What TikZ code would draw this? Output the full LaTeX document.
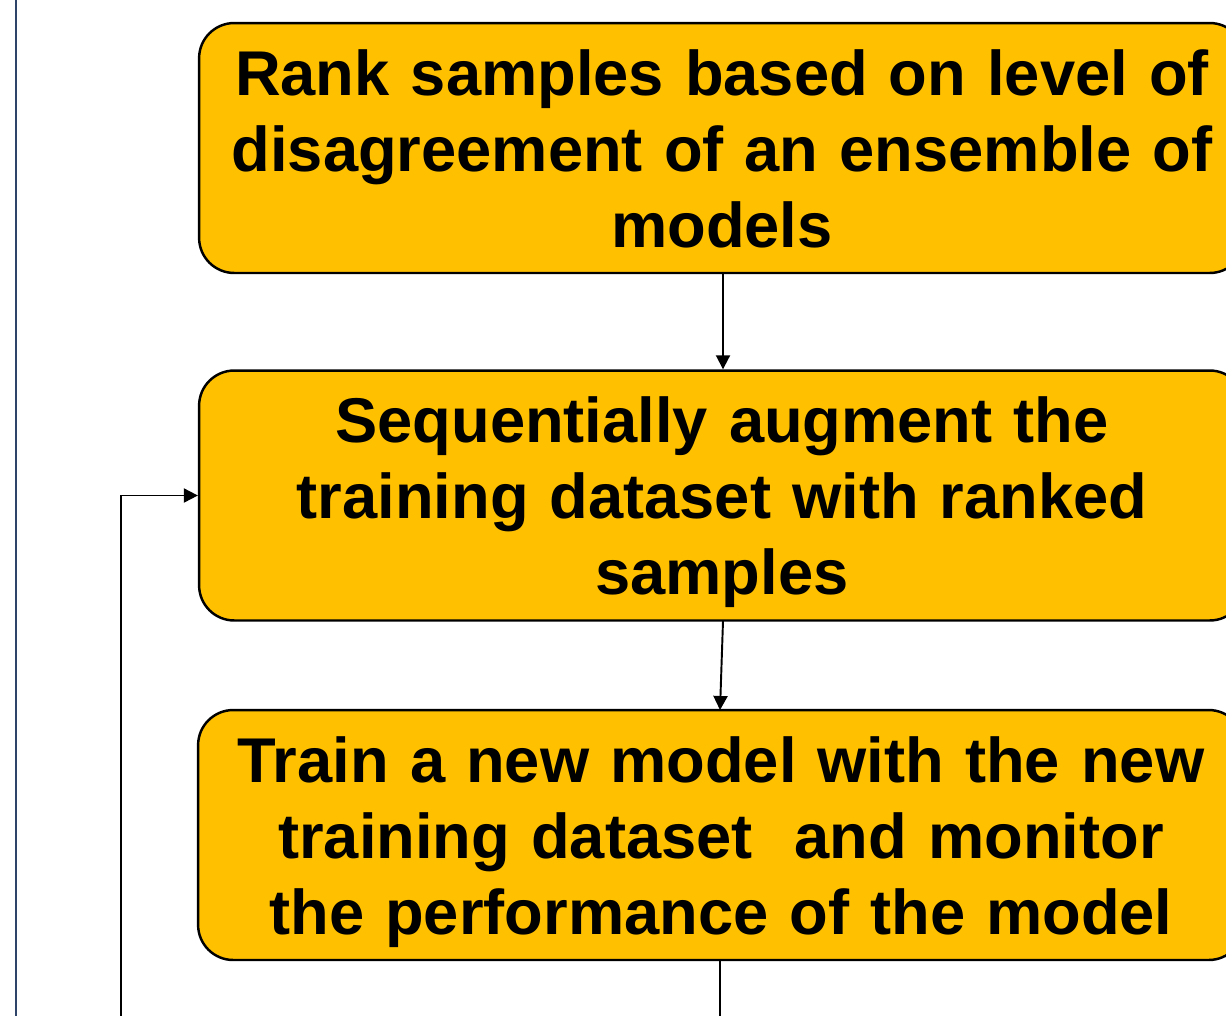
\documentclass[tikz,border=0pt]{standalone}
\usepackage{fontspec}
\setmainfont{Liberation Sans}
\usetikzlibrary{arrows.meta}
\definecolor{boxfill}{HTML}{FFC000}
\definecolor{navyline}{HTML}{2E4468}
\tikzset{
  px/.style={x=0.02cm,y=-0.02cm},
  flowbox/.style={draw=black, line width=1.4pt, fill=boxfill, rounded corners=20pt,
    minimum width=20.92cm, minimum height=5cm, inner sep=0pt},
  boxtext/.style={inner sep=0pt, text width=20.2cm, align=center,
    font=\fontsize{36pt}{43.3pt}\selectfont\bfseries},
  conn/.style={draw=black, line width=1.1pt},
  arr/.style={conn, -{Triangle[length=8pt,width=8pt]}}
}
\begin{document}
\begin{tikzpicture}[px]
\useasboundingbox (0,0) rectangle (1226,1015);
\clip (0,0) rectangle (1226,1015);
\draw[navyline, line width=1.2pt] (16,-5) -- (16,1020);
\node[flowbox, label={[boxtext, yshift=-0.02cm]center:Rank samples based on level of\\disagreement of an ensemble of\\models}] (b1) at (722,148) {};
\node[flowbox, label={[boxtext, yshift=-0.14cm]center:Sequentially augment the\\training dataset with ranked\\samples}] (b2) at (722,495.5) {};
\node[flowbox, label={[boxtext, yshift=-0.14cm]center:Train a new model with the new\\training dataset\ \ and monitor\\the performance of the model}] (b3) at (721,835) {};
\coordinate (b3end) at (720,1020);
\coordinate (fb) at (121,1020);
\draw[arr] (b1.south -| 723,0) -- (b2.north -| 723,0);
\draw[arr] (723,621) -- (720,710);
\draw[conn] (720,960) -- (b3end);
\draw[arr] (fb) |- (b2.west);
\end{tikzpicture}
\end{document}
